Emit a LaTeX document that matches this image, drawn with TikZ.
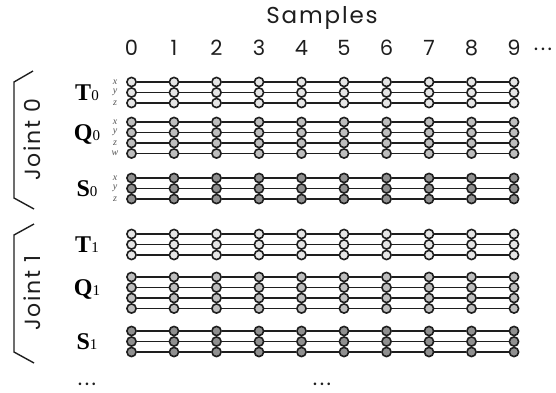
\documentclass[tikz,border=0pt]{standalone}
\usepackage{fontspec}
\setmainfont{Liberation Serif}
\newfontfamily\lab{Poppins}
\newfontfamily\labw[LetterSpace=8]{Poppins}
\definecolor{ink}{HTML}{1E1E1E}
\definecolor{tfill}{HTML}{E6E6E6}
\definecolor{qfill}{HTML}{BEBEBE}
\definecolor{sfill}{HTML}{909090}
\definecolor{axisgray}{HTML}{555555}
\begin{document}
\begin{tikzpicture}[x=1pt,y=-1pt,
  dot/.style={circle,draw=ink,line width=1.6pt,inner sep=0pt,minimum size=9.2pt},
  tdot/.style={dot,fill=tfill},
  qdot/.style={dot,fill=qfill},
  sdot/.style={dot,fill=sfill},
  link/.style={draw=ink,line width=1.8pt},
  bracketline/.style={draw=ink,line width=1.4pt},
  axlab/.style={font=\fontsize{10}{10}\selectfont\itshape,text=axisgray,inner sep=0pt},
  glab/.style={inner sep=0pt,font=\fontsize{24}{24}\selectfont},
  num/.style={font=\lab\fontsize{21}{21}\selectfont,text=ink,inner sep=0pt},
  title/.style={font=\labw\fontsize{23}{23}\selectfont,text=ink,inner sep=0pt},
  joint/.style={font=\labw\fontsize{22}{22}\selectfont,text=ink,inner sep=0pt,rotate=90}]
\useasboundingbox (0,0) rectangle (556,392);

% title and column numbers
\node[title] (samples) at (322,18) {Samples};
\foreach \c in {0,...,9} {
  \node[num] (col\c) at ({131.5+42.5*\c},47.5) {\c};
}
\node[num] (coldots) at (543,49) {.\kern2.5pt.\kern2.5pt.};

% grids of samples
\foreach \g/\st/\y/\n in {t0/tdot/82/3, q0/qdot/122/4, s0/sdot/178/3, t1/tdot/234/3, q1/qdot/277/4, s1/sdot/331/3} {
  \foreach \r in {1,...,\n} {
    \foreach \c in {0,...,9} {
      \node[\st] (\g-\r-\c) at ({131.5+42.5*\c},{\y+10.5*(\r-1)}) {};
    }
    \foreach \c [evaluate=\c as \d using int(\c+1)] in {0,...,8} {
      \draw[link] (\g-\r-\c) -- (\g-\r-\d);
    }
  }
}

% coordinate labels (joint 0 only)
\foreach \g/\y/\labs in {t0/82/{x,y,z}, q0/122/{x,y,z,w}, s0/178/{x,y,z}} {
  \foreach \l [count=\i from 0] in \labs {
    \node[axlab] (ax-\g-\l) at (115,{\y+10.5*\i}) {\l};
  }
}

% group labels
\node[glab] (T0) at (87,92.5) {\textbf{T}{\fontsize{15}{15}\selectfont 0}};
\node[glab] (Q0) at (87,134) {\textbf{Q}{\fontsize{15}{15}\selectfont 0}};
\node[glab] (S0) at (87,188.5) {\textbf{S}{\fontsize{15}{15}\selectfont 0}};
\node[glab] (T1) at (87,244.5) {\textbf{T}{\fontsize{15}{15}\selectfont 1}};
\node[glab] (Q1) at (87,289) {\textbf{Q}{\fontsize{15}{15}\selectfont 1}};
\node[glab] (S1) at (87,341.5) {\textbf{S}{\fontsize{15}{15}\selectfont 1}};

% joint brackets
\coordinate (b0a) at (33,71);
\coordinate (b0b) at (14,82);
\coordinate (b0c) at (14,198);
\coordinate (b0d) at (34,209);
\draw[bracketline] (b0a) -- (b0b) -- (b0c) -- (b0d);
\node[joint] (joint0) at (32,140) {Joint 0};
\coordinate (b1a) at (34,224);
\coordinate (b1b) at (14,235);
\coordinate (b1c) at (14,352);
\coordinate (b1d) at (34,363);
\draw[bracketline] (b1a) -- (b1b) -- (b1c) -- (b1d);
\node[joint] (joint1) at (32,293) {Joint 1};

% continuation dots
\node[num] (moreA) at (87,384) {.\kern2.5pt.\kern2.5pt.};
\node[num] (moreB) at (322,384) {.\kern2.5pt.\kern2.5pt.};
\end{tikzpicture}
\end{document}
